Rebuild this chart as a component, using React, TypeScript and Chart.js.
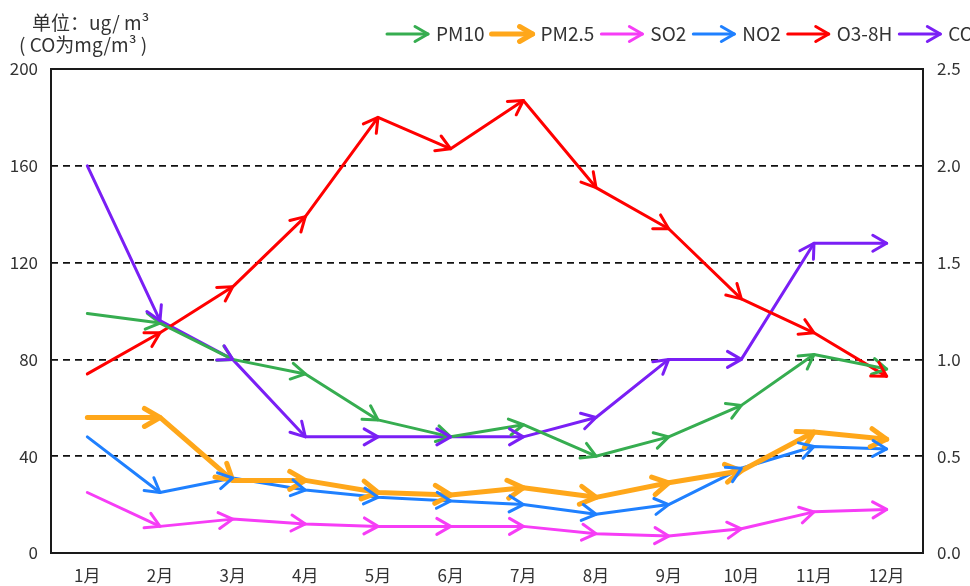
import React, { useEffect, useRef } from "react";
import { Chart, registerables } from "chart.js";

Chart.register(...registerables);

const months = ["1月", "2月", "3月", "4月", "5月", "6月", "7月", "8月", "9月", "10月", "11月", "12月"];
const pm10 = [99, 95, 80, 74, 55, 48, 53, 40, 48, 61, 82, 76];
const pm25 = [56, 56, 30, 30, 25, 24, 27, 23, 29, 34, 50, 47];
const so2 = [25, 11, 14, 12, 11, 11, 11, 8, 7, 10, 17, 18];
const no2 = [48, 25, 31, 26, 23, 21.5, 20, 16, 20, 35, 44, 43];
const o3 = [74, 91, 110, 139, 180, 167, 187, 151, 134, 105, 91, 73];
const co = [2.0, 1.2, 1.0, 0.6, 0.6, 0.6, 0.6, 0.7, 1.0, 1.0, 1.6, 1.6];
const leftTicks = [0, 40, 80, 120, 160, 200];
const rightTicks = [0, 0.5, 1.0, 1.5, 2.0, 2.5];
const titleLine1 = "单位：ug/ m³";
const titleLine2 = "( CO为mg/m³ )";

const FONT = "'Noto Sans CJK SC', 'Noto Sans', sans-serif";
const TEXT = "#333333";

const seriesDefs = [
  { label: "PM10", data: pm10, color: "#36ad50", width: 3, axis: "y" },
  { label: "PM2.5", data: pm25, color: "#ffa71a", width: 5, axis: "y" },
  { label: "SO2", data: so2, color: "#f63df6", width: 3, axis: "y" },
  { label: "NO2", data: no2, color: "#1f80ff", width: 3, axis: "y" },
  { label: "O3-8H", data: o3, color: "#ff0000", width: 3, axis: "y" },
  { label: "CO", data: co, color: "#7a1ff5", width: 3, axis: "y1" },
];

function drawHead(ctx: CanvasRenderingContext2D, x: number, y: number, ang: number, len: number) {
  const th = (30 * Math.PI) / 180;
  ctx.beginPath();
  ctx.moveTo(x - len * Math.cos(ang - th), y - len * Math.sin(ang - th));
  ctx.lineTo(x, y);
  ctx.lineTo(x - len * Math.cos(ang + th), y - len * Math.sin(ang + th));
  ctx.stroke();
}

const arrowPlugin = {
  id: "arrowHeads",
  afterDatasetsDraw(chart: any) {
    const ctx = chart.ctx;
    ctx.save();
    chart.data.datasets.forEach((ds: any, di: number) => {
      const meta = chart.getDatasetMeta(di);
      ctx.strokeStyle = ds.borderColor;
      ctx.lineWidth = ds.borderWidth;
      ctx.lineCap = "round";
      ctx.lineJoin = "round";
      const len = ds.borderWidth > 4 ? 18 : 16;
      for (let i = 1; i < meta.data.length; i++) {
        const p0 = meta.data[i - 1];
        const p1 = meta.data[i];
        const ang = Math.atan2(p1.y - p0.y, p1.x - p0.x);
        drawHead(ctx, p1.x, p1.y, ang, len);
      }
    });
    ctx.restore();
  },
};

const framePlugin = {
  id: "frameAndText",
  beforeDatasetsDraw(chart: any) {
    const { ctx, chartArea } = chart;
    ctx.save();
    ctx.strokeStyle = "#1a1a1a";
    ctx.lineWidth = 2;
    ctx.strokeRect(chartArea.left, chartArea.top, chartArea.right - chartArea.left, chartArea.bottom - chartArea.top);
    ctx.restore();
  },
  afterDraw(chart: any) {
    const ctx = chart.ctx;
    ctx.save();
    ctx.fillStyle = TEXT;
    ctx.textBaseline = "middle";
    ctx.textAlign = "left";
    ctx.font = `19px ${FONT}`;
    ctx.fillText(titleLine1, 32, 23);
    ctx.fillText(titleLine2, 19, 45);
    // legend
    let x = 385;
    const y = 34;
    ctx.font = `19px ${FONT}`;
    chart.data.datasets.forEach((ds: any) => {
      ctx.strokeStyle = ds.borderColor;
      ctx.lineWidth = ds.borderWidth;
      ctx.lineCap = "round";
      ctx.lineJoin = "round";
      ctx.beginPath();
      ctx.moveTo(x + 2, y);
      ctx.lineTo(x + 43, y);
      ctx.stroke();
      drawHead(ctx, x + 43, y, 0, 15);
      ctx.fillStyle = TEXT;
      ctx.fillText(ds.label, x + 51, y);
      x = x + 51 + ctx.measureText(ds.label).width + 5;
    });
    ctx.restore();
  },
};

export default function App() {
  const ref = useRef<HTMLCanvasElement | null>(null);
  useEffect(() => {
    if (!ref.current) return;
    const chart = new Chart(ref.current, {
      type: "line",
      data: {
        labels: months,
        datasets: seriesDefs.map((s) => ({
          label: s.label,
          data: s.data,
          borderColor: s.color,
          backgroundColor: s.color,
          borderWidth: s.width,
          pointRadius: 0,
          tension: 0,
          fill: false,
          yAxisID: s.axis,
          borderCapStyle: "round",
          borderJoinStyle: "round",
        })),
      },
      options: {
        animation: false,
        responsive: false,
        maintainAspectRatio: false,
        layout: { padding: { top: 69, left: 0, right: 0, bottom: 0 } },
        plugins: { legend: { display: false }, tooltip: { enabled: false }, title: { display: false } },
        scales: {
          x: {
            type: "category",
            offset: true,
            grid: { display: false, drawTicks: false },
            border: { display: false },
            ticks: { color: TEXT, font: { family: FONT, size: 17 }, padding: 12, maxRotation: 0, autoSkip: false },
            afterFit: (s: any) => { s.height = 33; },
          },
          y: {
            position: "left",
            min: 0,
            max: 200,
            afterBuildTicks: (s: any) => { s.ticks = leftTicks.map((v) => ({ value: v })); },
            grid: {
              drawTicks: false,
              color: (c: any) => (c.tick && (c.tick.value === 0 || c.tick.value === 200) ? "rgba(0,0,0,0)" : "#111111"),
              lineWidth: 1.8,
            },
            border: { display: false, dash: [7, 5] },
            ticks: { color: TEXT, font: { family: FONT, size: 17 }, padding: 13 },
            afterFit: (s: any) => { s.width = 51; },
          },
          y1: {
            position: "right",
            min: 0,
            max: 2.5,
            afterBuildTicks: (s: any) => { s.ticks = rightTicks.map((v) => ({ value: v })); },
            grid: { display: false, drawOnChartArea: false, drawTicks: false },
            border: { display: false },
            ticks: { color: TEXT, font: { family: FONT, size: 17 }, padding: 14, callback: (v: any) => Number(v).toFixed(1) },
            afterFit: (s: any) => { s.width = 47; },
          },
        },
      } as any,
      plugins: [arrowPlugin, framePlugin],
    });
    return () => chart.destroy();
  }, []);
  return (
    <div style={{ position: "fixed", left: 0, top: 0, width: 970, height: 586, background: "#fff" }}>
      <canvas ref={ref} width={970} height={586} style={{ width: 970, height: 586, display: "block" }} />
    </div>
  );
}
